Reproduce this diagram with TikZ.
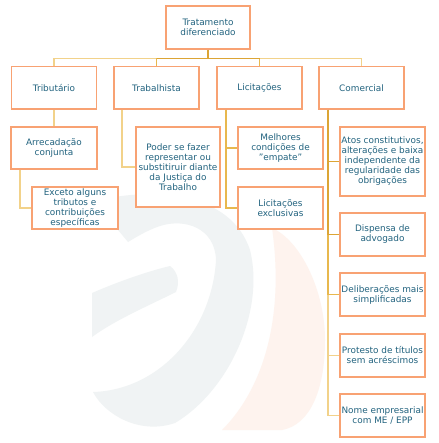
\documentclass[tikz,border=0pt]{standalone}
\usepackage{fontspec}
\setmainfont{DejaVu Sans}
\definecolor{boxline}{HTML}{F8A273}
\definecolor{txt}{HTML}{22637F}
\definecolor{gold}{HTML}{E8B84E}
\definecolor{golddark}{HTML}{DCA535}
\definecolor{goldlight}{HTML}{F2D28A}
\definecolor{wmgrey}{HTML}{F0F3F4}
\definecolor{wmorange}{HTML}{FEF3EE}
\begin{document}
\begin{tikzpicture}[x=1pt,y=-1pt,
  box/.style={draw=boxline, line width=1.3pt, fill=white, text=txt, align=center,
    font=\fontsize{8.9}{10}\selectfont, inner sep=1pt},
  w85/.style={minimum width=85pt},
  conn/.style={draw=gold, line width=1.3pt}]
\useasboundingbox (0,0) rectangle (438,443);
\fill[white] (0,0) rectangle (438,443);
% faint watermark
\fill[wmgrey] (100,200) .. controls (150,188) and (230,190) .. (250,250)
  .. controls (265,310) and (230,390) .. (175,423)
  .. controls (140,435) and (105,415) .. (93,392)
  .. controls (160,390) and (212,330) .. (216,260)
  .. controls (215,228) and (185,218) .. (160,226)
  .. controls (148,230) and (138,236) .. (128,242)
  -- (118,230) .. controls (110,228) and (104,230) .. (100,230) -- cycle;
\fill[wmgrey] (92,293) .. controls (115,283) and (145,272) .. (170,266)
  .. controls (178,272) and (180,282) .. (176,292)
  .. controls (150,305) and (115,320) .. (92,337) -- cycle;
\fill[wmorange] (272,228) .. controls (300,240) and (325,290) .. (325,340)
  .. controls (325,390) and (310,425) .. (282,430) -- (222,430)
  .. controls (262,390) and (285,320) .. (272,228) -- cycle;
% nodes
\node[box, minimum width=84pt, minimum height=43pt] (top) at (208,27.5) {Tratamento\\diferenciado};
\node[box, w85, minimum height=42.5pt] (trib) at (54,87.75) {Tributário};
\node[box, w85, minimum height=42.5pt] (trab) at (156.5,87.75) {Trabalhista};
\node[box, w85, minimum height=42.5pt] (lic) at (259.5,87.75) {Licitações};
\node[box, w85, minimum height=42.5pt] (com) at (361.5,87.75) {Comercial};
\node[box, minimum width=86pt, minimum height=42pt] (arr) at (54,148) {Arrecadação\\conjunta};
\node[box, minimum width=86pt, minimum height=42pt] (exc) at (75,208) {Exceto alguns\\tributos e\\contribuições\\específicas};
\node[box, minimum width=84pt, minimum height=80pt] (poder) at (178,167) {Poder se fazer\\representar ou\\substitiruir diante\\da Justiça do\\Trabalho};
\node[box, w85, minimum height=42pt] (mel) at (280.5,148) {Melhores\\condições de\\"empate"};
\node[box, w85, minimum height=42pt] (lexc) at (280.5,208) {Licitações\\exclusivas};
\node[box, w85, minimum height=69pt] (atos) at (382.5,161.5) {Atos constitutivos,\\alterações e baixa\\independente da\\regularidade das\\obrigações};
\node[box, w85, minimum height=43pt] (disp) at (382.5,234.5) {Dispensa de\\advogado};
\node[box, w85, minimum height=43pt] (delib) at (382.5,294.5) {Deliberações mais\\simplificadas};
\node[box, w85, minimum height=43pt] (prot) at (382.5,355.5) {Protesto de títulos\\sem acréscimos};
\node[box, w85, minimum height=43pt] (nome) at (382.5,415.5) {Nome empresarial\\com ME / EPP};
% connectors
\draw[conn, draw=golddark] (top.south) -- ++(0,9) coordinate (bus);
\draw[conn, draw=goldlight] (trib.north) |- (bus);
\draw[conn, draw=goldlight] (com.north) |- (bus);
\draw[conn] (trab.north) |- (bus);
\draw[conn] (lic.north) |- (bus);
\draw[conn, draw=golddark] (trab.north |- bus) -- (lic.north |- bus);
\draw[conn, draw=goldlight] (trib.south) -- (arr.north);
\draw[conn, draw=goldlight] ([xshift=-34pt]arr.south) |- (exc.west);
\draw[conn, draw=goldlight] ([xshift=-34.5pt]trab.south) |- (poder.west);
\draw[conn] ([xshift=-33.5pt]lic.south) |- (lexc.west);
\draw[conn] ([xshift=-33.5pt]lic.south) |- (mel.west);
\draw[conn, draw=goldlight] ([xshift=-33.5pt]com.south) |- (nome.west);
\draw[conn, draw=goldlight] ([xshift=-33.5pt]com.south) |- (prot.west);
\draw[conn] ([xshift=-33.5pt]com.south) |- (delib.west);
\draw[conn, draw=golddark] ([xshift=-33.5pt]com.south) |- (disp.west);
\draw[conn, draw=golddark] ([xshift=-33.5pt]com.south) |- (atos.west);
\end{tikzpicture}
\end{document}
